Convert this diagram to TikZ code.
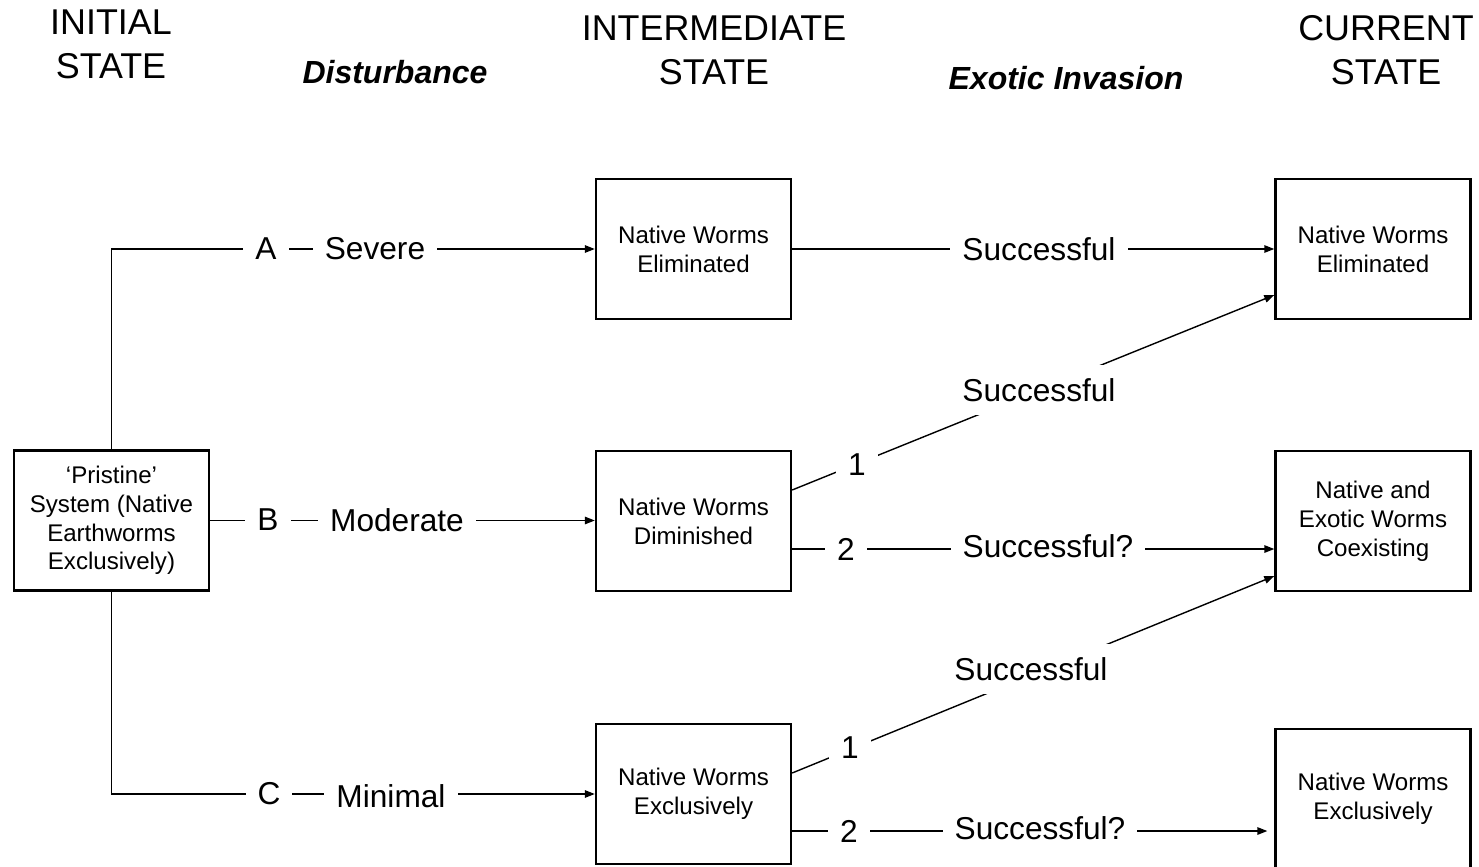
\documentclass[tikz,border=0pt]{standalone}
\usepackage{fontspec}
\setmainfont{Liberation Sans}
\usetikzlibrary{positioning,arrows.meta}

\begin{document}
\begin{tikzpicture}[x=0.01cm,y=-0.01cm,
  stbox/.style={draw,line width=0.65pt,minimum width=1.95cm,minimum height=1.4cm,inner sep=1pt,align=center,font=\fontsize{6.85}{8.2}\selectfont},
  lbl/.style={fill=white,inner xsep=1.2mm,inner ysep=1.3mm,font=\fontsize{9}{11}\selectfont},
  head/.style={align=center,font=\fontsize{10.2}{12.5}\selectfont},
  phase/.style={font=\fontsize{9.1}{11}\selectfont\bfseries\itshape},
  link/.style={line width=0.4pt},
  arr/.style={link,-{Triangle[length=1mm,width=0.75mm]}}]
\useasboundingbox (0,0) rectangle (1479,867);
\node[head] (hInit) at (111,44) {INITIAL\\STATE};
\node[phase] (hDist) at (395,72) {Disturbance};
\node[head] (hInter) at (714,50) {INTERMEDIATE\\STATE};
\node[phase] (hInv) at (1066,78) {Exotic Invasion};
\node[head] (hCur) at (1386,50) {CURRENT\\STATE};
\node[stbox] (pristine) at (111.5,520.5) {`Pristine'\\System (Native\\Earthworms\\Exclusively)};
\node[stbox] (intA) at (693.5,249) {Native Worms\\Eliminated};
\node[stbox] (intB) at (693.5,521) {Native Worms\\Diminished};
\node[stbox] (intC) at (693.5,794) {Native Worms\\Exclusively};
\node[stbox] (curA) at (1373,249) {Native Worms\\Eliminated};
\node[stbox] (curB) at (1373,521) {Native and\\Exotic Worms\\Coexisting};
\node[stbox] (curC) at (1373,799) {Native Worms\\Exclusively};
\coordinate (b2) at ([yshift=-2.8mm]intB.east);
\coordinate (c2) at ([yshift=-3.7mm]intC.east);
\draw[arr] (pristine.north) |- (intA.west);
\draw[arr] (pristine.east) -- (pristine.east -| intB.west);
\draw[arr] (pristine.south) |- (intC.west);
\draw[arr] (intA.east) -- (curA.west);
\draw[arr] ([yshift=3.1mm]intB.east) -- ([yshift=-4.6mm]curA.west);
\draw[arr] (b2) -- (b2 -| curB.west);
\draw[arr] ([yshift=2.1mm]intC.east) -- ([yshift=-5.5mm]curB.west);
\draw[arr,shorten >=0.7mm] (c2) -- (c2 -| curC.west);
\node[lbl] (labA) at (266,249) {A};
\node[lbl] (sevA) at (375,249) {Severe};
\node[lbl] (labB) at (268,520) {B};
\node[lbl] (modB) at (397,520) {Moderate};
\node[lbl] (labC) at (269,794) {C};
\node[lbl] (minC) at (391,796) {Minimal};
\node[lbl] (sucA) at (1039,249) {Successful};
\node[lbl] (oneB) at (857,465) {1};
\node[lbl] (sucB1) at (1039,390) {Successful};
\node[lbl] (twoB) at (846,549) {2};
\node[lbl] (sucB2) at (1048,546) {Successful?};
\node[lbl] (oneC) at (850,748) {1};
\node[lbl] (sucC1) at (1031,669) {Successful};
\node[lbl] (twoC) at (849,831) {2};
\node[lbl] (sucC2) at (1040,828) {Successful?};
\end{tikzpicture}
\end{document}
